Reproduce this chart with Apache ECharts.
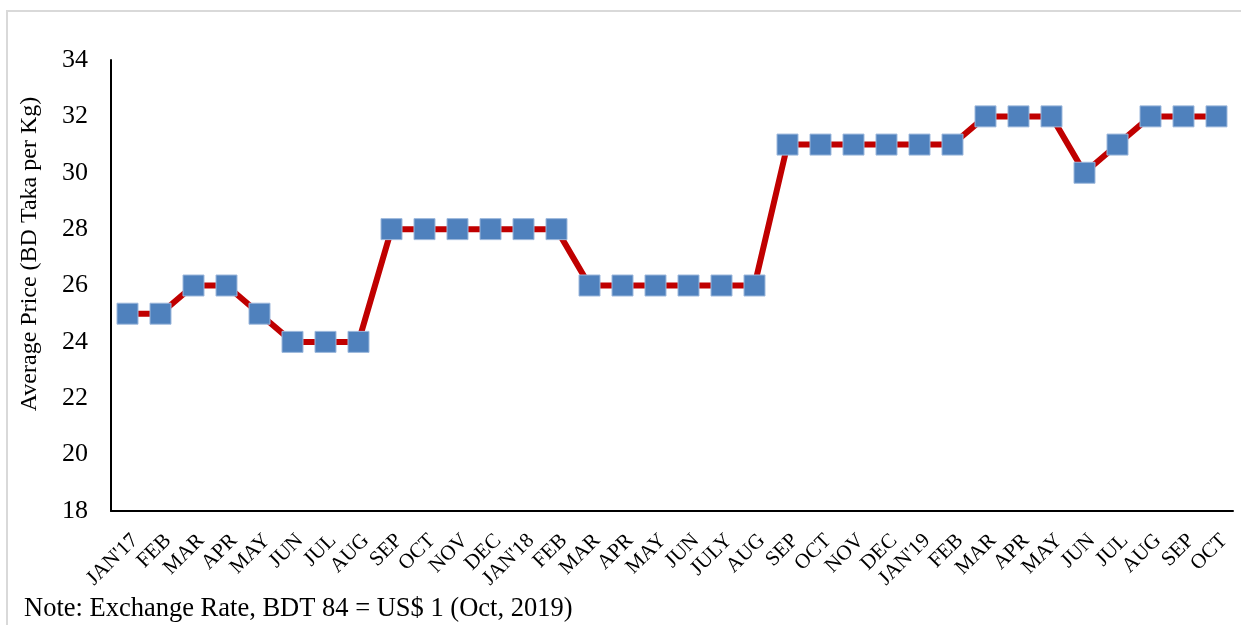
<!DOCTYPE html>
<html>
<head>
<meta charset="utf-8">
<script src="https://cdn.jsdelivr.net/npm/echarts@6/dist/echarts.min.js"></script>
<style>
  html, body { margin: 0; padding: 0; background: #fff; }
  #main { width: 1241px; height: 625px; }
</style>
</head>
<body>
<div id="main"></div>
<script>
const months = ["JAN'17", 'FEB', 'MAR', 'APR', 'MAY', 'JUN', 'JUL', 'AUG', 'SEP', 'OCT', 'NOV', 'DEC',
    "JAN'18", 'FEB', 'MAR', 'APR', 'MAY', 'JUN', 'JULY', 'AUG', 'SEP', 'OCT', 'NOV', 'DEC',
    "JAN'19", 'FEB', 'MAR', 'APR', 'MAY', 'JUN', 'JUL', 'AUG', 'SEP', 'OCT'];
const prices = [25, 25, 26, 26, 25, 24, 24, 24, 28, 28, 28, 28,
    28, 28, 26, 26, 26, 26, 26, 26, 31, 31, 31, 31,
    31, 31, 32, 32, 32, 30, 31, 32, 32, 32];
const yTicks = { min: 18, max: 34, step: 2 };
const yName = 'Average Price (BD Taka per Kg)';
const note = 'Note: Exchange Rate, BDT 84 = US$ 1 (Oct, 2019)';

const myChart = echarts.init(document.getElementById('main'));
const font = '"Liberation Serif", "Times New Roman", serif';

let option = {
    animation: false,
    textStyle: { fontFamily: font },
    graphic: [
        {
            type: 'rect',
            shape: { x: 7, y: 11, width: 1260, height: 640 },
            style: { fill: 'none', stroke: '#d9d9d9', lineWidth: 2 }
        },
        {
            // y axis title, sits a bit above the plot's middle like the original
            type: 'text',
            x: 30,
            y: 254,
            rotation: Math.PI / 2,
            style: {
                text: yName,
                font: '24px ' + font,
                fill: '#000',
                align: 'center',
                verticalAlign: 'middle'
            }
        },
        {
            type: 'text',
            left: 24,
            top: 596,
            style: { text: note, font: '26.5px ' + font, fill: '#000' }
        }
    ],
    grid: { left: 111, right: 8, top: 60, bottom: 114 },
    xAxis: {
        type: 'category',
        data: months,
        boundaryGap: true,
        axisLine: { lineStyle: { color: '#000', width: 2 } },
        axisTick: { show: false },
        axisLabel: {
            interval: 0,
            rotate: 45,
            margin: 19,
            verticalAlign: 'top',
            color: '#000',
            fontSize: 21,
            fontFamily: font
        }
    },
    yAxis: {
        type: 'value',
        min: yTicks.min,
        max: yTicks.max,
        interval: yTicks.step,
        axisLine: { show: true, lineStyle: { color: '#000', width: 2 } },
        axisTick: { show: false },
        splitLine: { show: false },
        axisLabel: { color: '#000', fontSize: 26, margin: 23, fontFamily: font }
    },
    series: [
        {
            type: 'line',
            data: prices,
            symbol: 'rect',
            symbolSize: 21,
            lineStyle: { color: '#C00000', width: 6 },
            itemStyle: { color: '#4F81BD', borderColor: '#9db8dc', borderWidth: 1 }
        }
    ]
};

option && myChart.setOption(option);
</script>
</body>
</html>
